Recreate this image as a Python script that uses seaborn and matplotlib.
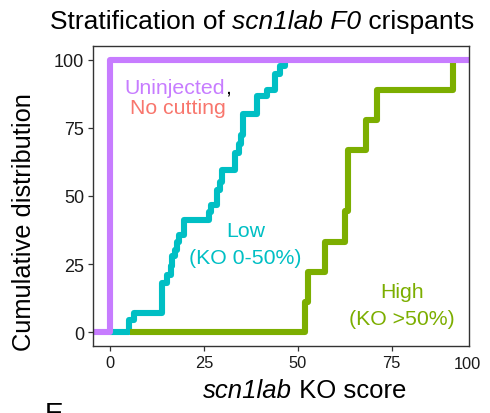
import matplotlib
matplotlib.use("Agg")
import matplotlib.pyplot as plt
import seaborn as sns
import pandas as pd

# ---- data ----
uninj_score = [0]
uninj_cum = [100]

low_score = [5.0, 6.4, 13.9, 15.2, 16.1, 16.6, 17.2, 17.8, 18.4, 19.6, 26.2,
             26.9, 28.5, 29.3, 29.9, 33.3, 34.2, 34.8, 35.5, 39.1, 41.8,
             44.0, 45.3, 46.6]
low_cum = [4.4, 7.2, 18.0, 21.0, 24.5, 28.0, 30.3, 33.3, 35.8, 41.3, 44.0,
           46.8, 52.3, 55.0, 59.7, 65.8, 69.0, 72.5, 79.9, 86.6, 89.0,
           94.6, 97.7, 100.0]

high_score = [51.9, 52.8, 57.2, 62.5, 63.4, 68.1, 71.0, 91.3]
high_cum = [11.1, 22.2, 33.3, 44.4, 66.7, 77.8, 88.9, 100.0]

low_start = 0.0
high_start = 5.4

xticks = [0, 25, 50, 75]
yticks = [0, 25, 50, 75, 100]

colors = {"low": "#00BFC4", "high": "#7CAE00", "uninj": "#C77CFF"}
salmon = "#F8766D"

XLIM = (-4.55, 95.55)
YLIM = (-5, 105)

# ---- build step tables ----
rows = []
rows.append(("low", low_start, 0.0))
rows += [("low", s, c) for s, c in zip(low_score, low_cum)]
rows.append(("high", high_start, 0.0))
rows += [("high", s, c) for s, c in zip(high_score, high_cum)]
rows.append(("uninj", XLIM[0], 0.0))
rows += [("uninj", s, c) for s, c in zip(uninj_score, uninj_cum)]
rows.append(("uninj", XLIM[1], uninj_cum[-1]))
df = pd.DataFrame(rows, columns=["group", "score", "cum"])

sns.set_style("white")
plt.rcParams["font.family"] = ["Liberation Sans", "DejaVu Sans"]

fig = plt.figure(figsize=(4.9, 4.14), dpi=100)
ax = fig.add_axes([93 / 490, 1 - 347 / 414, (469 - 93) / 490, (347 - 47) / 414])

sns.lineplot(data=df, x="score", y="cum", hue="group",
             hue_order=["low", "high", "uninj"], palette=colors,
             estimator=None, sort=False, drawstyle="steps-post",
             linewidth=4.4, legend=False, ax=ax, solid_capstyle="butt")

ax.set_xlim(*XLIM)
ax.set_ylim(*YLIM)
ax.set_xticks(xticks)
ax.set_yticks(yticks)
ax.set_xlabel("")
ax.set_ylabel("")
ax.tick_params(axis="both", direction="out", length=3.5, width=0.9,
               color="#333333", labelsize=11.8, labelcolor="#1a1a1a", pad=3,
               bottom=True, left=True)
ax.tick_params(axis="y", labelsize=13)
for sp in ax.spines.values():
    sp.set_color("#333333")
    sp.set_linewidth(1.0)

# extra "100" label at the right edge of the x axis
ax.text(0.995, -0.035, "100", transform=ax.transAxes, ha="center", va="top",
        fontsize=11.8, color="#1a1a1a")

# annotations
FS = 15.3
ax.text(18.0, 82.4, "No cutting", color=salmon, fontsize=FS,
        ha="center", va="center")
ax.text(36.0, 37.5, "Low", color=colors["low"], fontsize=FS,
        ha="center", va="center")
ax.text(36.0, 27.6, "(KO 0-50%)", color=colors["low"], fontsize=FS,
        ha="center", va="center")
ax.text(77.7, 15.1, "High", color=colors["high"], fontsize=FS,
        ha="center", va="center")
ax.text(77.7, 5.1, "(KO >50%)", color=colors["high"], fontsize=FS,
        ha="center", va="center")

# "Uninjected" (purple) followed by a black comma, centred as one line
fig.canvas.draw()
_r = fig.canvas.get_renderer()
_probe = ax.text(0, 0, "Uninjected,", fontsize=FS)
_full_w = _probe.get_window_extent(_r).width
_probe.remove()
_word = ax.text(0, 0, "Uninjected", fontsize=FS)
_word_w = _word.get_window_extent(_r).width
_word.remove()
_cx, _cy = ax.transData.transform((18.0, 87.9))
_left = ax.transData.inverted().transform((_cx - _full_w / 2, _cy))
_comma = ax.transData.inverted().transform((_cx - _full_w / 2 + _word_w, _cy))
ax.text(_left[0], _left[1], "Uninjected", color=colors["uninj"], fontsize=FS,
        ha="left", va="baseline")
ax.text(_comma[0], _comma[1], ",", color="black", fontsize=FS,
        ha="left", va="baseline")


def mixed_text(fig, xc, yb, parts, fontsize):
    """Draw segments (text, style) in one line centred at figure x=xc."""
    fig.canvas.draw()
    r = fig.canvas.get_renderer()
    arts = []
    for txt, style in parts:
        a = fig.text(0, yb, txt, fontsize=fontsize, style=style,
                     ha="left", va="baseline", color="black")
        arts.append(a)
    widths = [a.get_window_extent(r).width / fig.bbox.width for a in arts]
    total = sum(widths)
    x = xc - total / 2
    for a, w in zip(arts, widths):
        a.set_x(x)
        x += w


mixed_text(fig, 262 / 490, 1 - 29 / 414,
           [("Stratification of ", "normal"), ("scn1lab F0", "italic"),
            (" crispants", "normal")], 19)
mixed_text(fig, 305 / 490, 1 - 398 / 414,
           [("scn1lab", "italic"), (" KO score", "normal")], 18.5)
fig.text(24 / 490, 1 - 222 / 414, "Cumulative distribution", rotation=90,
         ha="center", va="center", fontsize=18.3, color="black")
fig.text(45 / 490, 1 - 402 / 414, "E", ha="left", va="top",
         fontsize=20, color="black")

fig.savefig("out.png", dpi=100)
